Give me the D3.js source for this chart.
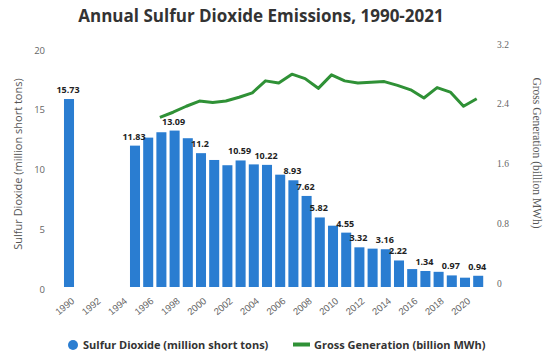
<!DOCTYPE html>
<html>
<head>
<meta charset="utf-8">
<script src="https://cdn.jsdelivr.net/npm/d3@7"></script>
<style>
  body { margin: 0; background: #fff; }
  svg { display: block; }
</style>
</head>
<body>
<div id="chart"></div>
<script>
// data
const so2Years = [1990, 1995, 1996, 1997, 1998, 1999, 2000, 2001, 2002, 2003, 2004, 2005, 2006, 2007,
  2008, 2009, 2010, 2011, 2012, 2013, 2014, 2015, 2016, 2017, 2018, 2019, 2020, 2021];
const so2Values = [15.73, 11.83, 12.5, 12.95, 13.09, 12.45, 11.2, 10.63, 10.19, 10.59, 10.26, 10.22, 9.4, 8.93,
  7.62, 5.82, 5.13, 4.55, 3.32, 3.21, 3.16, 2.22, 1.5, 1.34, 1.27, 0.97, 0.78, 0.94];
const labeledYears = [1990, 1995, 1998, 2000, 2003, 2005, 2007, 2008, 2009, 2011, 2012, 2014, 2015, 2017, 2019, 2021];

const genYears = [1997, 1998, 1999, 2000, 2001, 2002, 2003, 2004, 2005, 2006, 2007, 2008, 2009,
  2010, 2011, 2012, 2013, 2014, 2015, 2016, 2017, 2018, 2019, 2020, 2021];
const genValues = [2.27, 2.34, 2.42, 2.49, 2.47, 2.49, 2.54, 2.6, 2.76, 2.73, 2.85, 2.79, 2.66,
  2.84, 2.76, 2.73, 2.74, 2.75, 2.7, 2.64, 2.53, 2.67, 2.61, 2.42, 2.52];

const allYears = d3.range(1990, 2022);
const xTickYears = [1990, 1992, 1994, 1996, 1998, 2000, 2002, 2004, 2006, 2008, 2010, 2012, 2014, 2016, 2018, 2020];
const leftTicks = [0, 5, 10, 15, 20];
const rightTicks = [0, 0.8, 1.6, 2.4, 3.2];

const width = 544;
const height = 351;
const baseY = 287;
const topY = 48;

const svg = d3.select("#chart").append("svg")
  .attr("width", width)
  .attr("height", height)
  .attr("font-family", "'Open Sans', 'DejaVu Sans', sans-serif");

const x = d3.scaleBand()
  .domain(allYears)
  .range([62.4, 484.8])
  .paddingInner(0.24)
  .paddingOuter(0.12);

const y = d3.scaleLinear().domain([0, 20]).range([baseY, topY]);
const y2 = d3.scaleLinear().domain([0, 3.2]).range([baseY, topY]);

// title
svg.append("text")
  .attr("x", 261)
  .attr("y", 22)
  .attr("text-anchor", "middle")
  .attr("font-size", 17)
  .attr("font-weight", 700)
  .attr("fill", "#333")
  .text("Annual Sulfur Dioxide Emissions, 1990-2021");

// left axis
const leftAxis = svg.append("g")
  .attr("transform", `translate(45,2)`)
  .call(d3.axisLeft(y).tickValues(leftTicks).tickSize(0).tickPadding(0));
leftAxis.select(".domain").remove();
leftAxis.selectAll("text").attr("font-size", 9.5).attr("fill", "#666")
  .attr("font-family", "'Open Sans', sans-serif");

svg.append("text")
  .attr("transform", "translate(22,164) rotate(-90)")
  .attr("text-anchor", "middle")
  .attr("font-size", 11)
  .attr("fill", "#555")
  .text("Sulfur Dioxide (million short tons)");

// right axis
const rightAxis = svg.append("g")
  .attr("transform", `translate(497,-4)`)
  .call(d3.axisRight(y2).tickValues(rightTicks).tickSize(0).tickPadding(0)
    .tickFormat((d) => d === 0 ? "0" : d3.format(".1f")(d)));
rightAxis.select(".domain").remove();
rightAxis.selectAll("text").attr("font-size", 9.5).attr("fill", "#666")
  .attr("font-family", "'Liberation Serif', 'DejaVu Serif', serif");

svg.append("text")
  .attr("transform", "translate(533,153) rotate(90)")
  .attr("text-anchor", "middle")
  .attr("font-size", 11.5)
  .attr("fill", "#555")
  .attr("font-family", "'Liberation Serif', 'DejaVu Serif', serif")
  .text("Gross Generation (billion MWh)");

// x axis
const xAxis = svg.append("g")
  .attr("transform", `translate(0,${baseY})`)
  .call(d3.axisBottom(x).tickValues(xTickYears).tickSize(0).tickPadding(0));
xAxis.select(".domain").remove();
xAxis.selectAll("text")
  .attr("font-size", 9.5)
  .attr("fill", "#666")
  .attr("text-anchor", "end")
  .attr("y", 0)
  .attr("dy", 0)
  .attr("transform", "translate(6,15) rotate(-40)");

// bars
const so2 = so2Years.map((yr, i) => ({ year: yr, value: so2Values[i] }));

svg.append("g")
  .selectAll("rect")
  .data(so2)
  .join("rect")
  .attr("x", (d) => x(d.year))
  .attr("y", (d) => y(d.value))
  .attr("width", x.bandwidth())
  .attr("height", (d) => baseY - y(d.value))
  .attr("fill", "#2a7dd1");

// gross generation line
const gen = genYears.map((yr, i) => ({ year: yr, value: genValues[i] }));
const line = d3.line()
  .x((d) => x(d.year) + x.bandwidth() / 2 - 1.5)
  .y((d) => y2(d.value));

svg.append("path")
  .datum(gen)
  .attr("d", line)
  .attr("fill", "none")
  .attr("stroke", "#2f9136")
  .attr("stroke-width", 3)
  .attr("stroke-linejoin", "round");

// bar value labels
svg.append("g")
  .selectAll("text")
  .data(so2.filter((d) => labeledYears.includes(d.year)))
  .join("text")
  .attr("x", (d) => x(d.year) + x.bandwidth() / 2 - 1)
  .attr("y", (d) => y(d.value) - 6)
  .attr("text-anchor", "middle")
  .attr("font-size", 9)
  .attr("font-weight", 700)
  .attr("fill", "#222")
  .text((d) => d.value);

// legend
const legend = svg.append("g").attr("font-size", 11).attr("font-weight", 700).attr("fill", "#333");
legend.append("circle").attr("cx", 73).attr("cy", 345).attr("r", 5).attr("fill", "#2a7dd1");
legend.append("text").attr("x", 83).attr("y", 348.5).text("Sulfur Dioxide (million short tons)");
legend.append("rect").attr("x", 293).attr("y", 342.5).attr("width", 17).attr("height", 4).attr("fill", "#2f9136");
legend.append("text").attr("x", 314).attr("y", 348.5).text("Gross Generation (billion MWh)");
</script>
</body>
</html>
